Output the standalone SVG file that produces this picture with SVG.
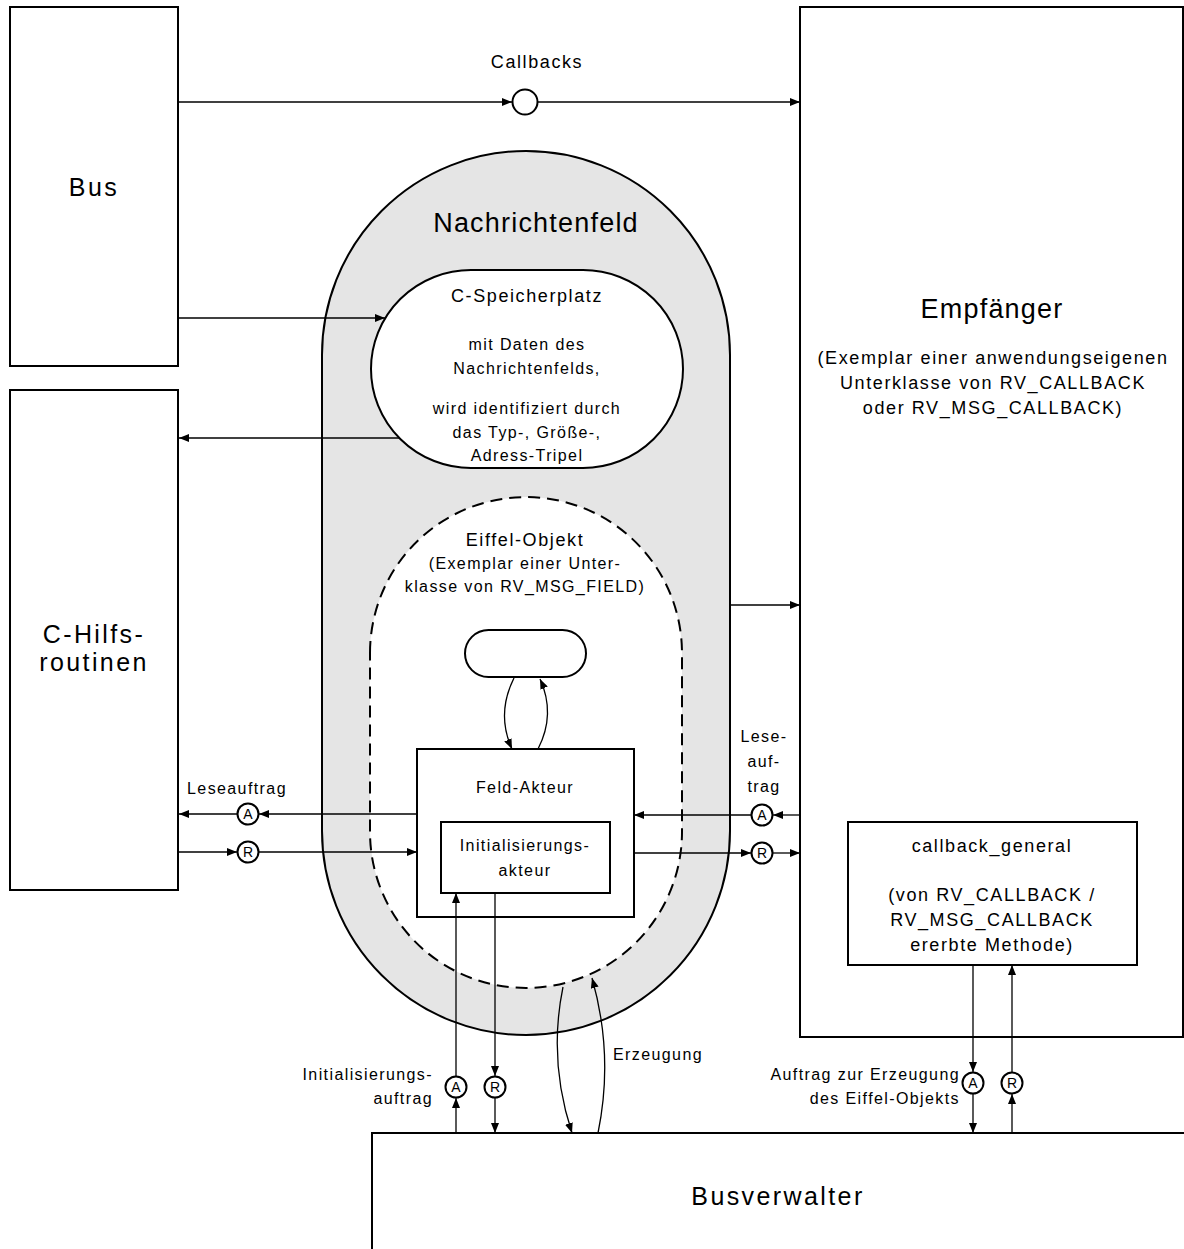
<svg xmlns="http://www.w3.org/2000/svg" width="1184" height="1249" viewBox="0 0 1184 1249">
  <style>
    .box { fill: #ffffff; stroke: #000000; stroke-width: 2; }
    .line { fill: none; stroke: #000000; stroke-width: 1.3; }
    .port { fill: #ffffff; stroke: #000000; stroke-width: 2; }
    text { font-family: "Liberation Sans", Arial, sans-serif; fill: #000000; text-anchor: middle; }
    .t-big { font-size: 25px; letter-spacing: 2.4px; }
    .t-title { font-size: 27px; letter-spacing: 1.2px; }
    .t-mid { font-size: 18px; letter-spacing: 1.6px; }
    .t-small { font-size: 16px; letter-spacing: 1.4px; }
    .t-port { font-size: 14px; }
    .end { text-anchor: end; }
  </style>
  <defs>
    <marker id="arrow" viewBox="0 0 10 8" refX="10" refY="4" markerWidth="10" markerHeight="8" markerUnits="userSpaceOnUse" orient="auto">
      <path d="M0,0 L10,4 L0,8 Z" fill="#000000"/>
    </marker>
  </defs>

  <!-- Bus -->
  <g id="bus">
    <rect class="box" x="10" y="7" width="168" height="359"/>
    <text class="t-big" x="94" y="196">Bus</text>
  </g>

  <!-- C helper routines -->
  <g id="c-hilfsroutinen">
    <rect class="box" x="10" y="390" width="168" height="500"/>
    <text class="t-big" x="94" y="643">C-Hilfs-</text>
    <text class="t-big" x="94" y="671">routinen</text>
  </g>

  <!-- Receiver -->
  <g id="empfaenger">
    <rect class="box" x="800" y="7" width="383" height="1030"/>
    <text class="t-title" x="992" y="318">Empfänger</text>
    <text class="t-mid" x="993" y="364">(Exemplar einer anwendungseigenen</text>
    <text class="t-mid" x="993" y="389">Unterklasse von RV_CALLBACK</text>
    <text class="t-mid" x="993" y="414">oder RV_MSG_CALLBACK)</text>
  </g>

  <!-- callback_general method -->
  <g id="callback-general">
    <rect class="box" x="848" y="822" width="289" height="143"/>
    <text class="t-mid" x="992" y="852">callback_general</text>
    <text class="t-mid" x="992" y="901">(von RV_CALLBACK /</text>
    <text class="t-mid" x="992" y="926">RV_MSG_CALLBACK</text>
    <text class="t-mid" x="992" y="951">ererbte Methode)</text>
  </g>

  <!-- Bus manager -->
  <g id="busverwalter">
    <rect class="box" x="372" y="1133" width="830" height="200"/>
    <text class="t-big" x="778" y="1205">Busverwalter</text>
  </g>

  <!-- Message field: grey stadium -->
  <g id="nachrichtenfeld">
    <path class="box" style="fill:#e5e5e5" d="M322,355 A204,204 0 0 1 730,355 L730,831 A204,204 0 0 1 322,831 Z"/>
    <text class="t-title" x="536" y="232">Nachrichtenfeld</text>
  </g>

  <!-- C storage -->
  <g id="c-speicherplatz">
    <rect class="box" x="371" y="270" width="312" height="198" rx="100" ry="99"/>
    <text class="t-mid" x="527" y="302">C-Speicherplatz</text>
    <text class="t-small" x="527" y="350">mit Daten des</text>
    <text class="t-small" x="527" y="374">Nachrichtenfelds,</text>
    <text class="t-small" x="527" y="414">wird identifiziert durch</text>
    <text class="t-small" x="527" y="438">das Typ-, Größe-,</text>
    <text class="t-small" x="527" y="461">Adress-Tripel</text>
  </g>

  <!-- Eiffel object: dashed stadium -->
  <g id="eiffel-objekt">
    <path d="M370,653 A156,156 0 0 1 682,653 L682,832 A156,156 0 0 1 370,832 Z" fill="#ffffff" stroke="#000000" stroke-width="2" stroke-dasharray="12,7"/>
    <text class="t-mid" x="525" y="546">Eiffel-Objekt</text>
    <text class="t-small" x="525" y="569">(Exemplar einer Unter-</text>
    <text class="t-small" x="525" y="592">klasse von RV_MSG_FIELD)</text>
  </g>

  <!-- State -->
  <g id="zustand">
    <rect class="box" x="465" y="630" width="121" height="47" rx="23.5" ry="23.5"/>
  </g>

  <!-- Field actor -->
  <g id="feld-akteur">
    <rect class="box" x="417" y="749" width="217" height="168"/>
    <text class="t-small" x="525" y="793">Feld-Akteur</text>
  </g>

  <!-- Initialisation actor -->
  <g id="initialisierungsakteur">
    <rect class="box" x="441" y="822" width="169" height="71"/>
    <text class="t-small" x="525" y="851">Initialisierungs-</text>
    <text class="t-small" x="525" y="876">akteur</text>
  </g>

  <!-- Connectors -->
  <g id="connectors">
    <!-- Callbacks: Bus -> Empfaenger -->
    <line class="line" x1="178" y1="102" x2="512" y2="102" marker-end="url(#arrow)"/>
    <line class="line" x1="538" y1="102" x2="800" y2="102" marker-end="url(#arrow)"/>
    <circle class="port" cx="525" cy="102" r="12.5"/>
    <text class="t-mid" x="537" y="68">Callbacks</text>

    <!-- Bus -> C storage, C storage -> helpers -->
    <line class="line" x1="178" y1="318" x2="385" y2="318" marker-end="url(#arrow)"/>
    <line class="line" x1="399" y1="438" x2="179" y2="438" marker-end="url(#arrow)"/>

    <!-- Message field -> Empfaenger -->
    <line class="line" x1="730" y1="605" x2="800" y2="605" marker-end="url(#arrow)"/>

    <!-- State <-> field actor -->
    <path class="line" d="M514,678 Q496,714 512,749" marker-end="url(#arrow)"/>
    <path class="line" d="M538,749 Q556,714 540,679" marker-end="url(#arrow)"/>

    <!-- Read request, left -->
    <line class="line" x1="417" y1="814" x2="259" y2="814" marker-end="url(#arrow)"/>
    <line class="line" x1="237" y1="814" x2="179" y2="814" marker-end="url(#arrow)"/>
    <circle class="port" cx="248" cy="814" r="10.5"/>
    <text class="t-port" x="248" y="819">A</text>
    <line class="line" x1="178" y1="852" x2="237" y2="852" marker-end="url(#arrow)"/>
    <line class="line" x1="259" y1="852" x2="417" y2="852" marker-end="url(#arrow)"/>
    <circle class="port" cx="248" cy="852" r="10.5"/>
    <text class="t-port" x="248" y="857">R</text>
    <text class="t-small" x="237" y="794">Leseauftrag</text>

    <!-- Read request, right -->
    <line class="line" x1="800" y1="815" x2="773" y2="815" marker-end="url(#arrow)"/>
    <line class="line" x1="751" y1="815" x2="634" y2="815" marker-end="url(#arrow)"/>
    <circle class="port" cx="762" cy="815" r="10.5"/>
    <text class="t-port" x="762" y="820">A</text>
    <line class="line" x1="634" y1="853" x2="751" y2="853" marker-end="url(#arrow)"/>
    <line class="line" x1="773" y1="853" x2="800" y2="853" marker-end="url(#arrow)"/>
    <circle class="port" cx="762" cy="853" r="10.5"/>
    <text class="t-port" x="762" y="858">R</text>
    <text class="t-small" x="764" y="742">Lese-</text>
    <text class="t-small" x="764" y="767">auf-</text>
    <text class="t-small" x="764" y="792">trag</text>

    <!-- Initialisation request -->
    <line class="line" x1="456" y1="1133" x2="456" y2="1098" marker-end="url(#arrow)"/>
    <line class="line" x1="456" y1="1076" x2="456" y2="893" marker-end="url(#arrow)"/>
    <circle class="port" cx="456" cy="1087" r="10.5"/>
    <text class="t-port" x="456" y="1092">A</text>
    <line class="line" x1="495" y1="893" x2="495" y2="1076" marker-end="url(#arrow)"/>
    <line class="line" x1="495" y1="1098" x2="495" y2="1133" marker-end="url(#arrow)"/>
    <circle class="port" cx="495" cy="1087" r="10.5"/>
    <text class="t-port" x="495" y="1092">R</text>
    <text class="t-small end" x="433" y="1080">Initialisierungs-</text>
    <text class="t-small end" x="433" y="1104">auftrag</text>

    <!-- Creation -->
    <path class="line" d="M563,987 Q548,1060 572,1133" marker-end="url(#arrow)"/>
    <path class="line" d="M598,1133 Q614,1055 592,978" marker-end="url(#arrow)"/>
    <text class="t-small" x="658" y="1060">Erzeugung</text>

    <!-- Creation request from callback_general -->
    <line class="line" x1="973" y1="965" x2="973" y2="1072" marker-end="url(#arrow)"/>
    <line class="line" x1="973" y1="1094" x2="973" y2="1133" marker-end="url(#arrow)"/>
    <circle class="port" cx="973" cy="1083" r="10.5"/>
    <text class="t-port" x="973" y="1088">A</text>
    <line class="line" x1="1012" y1="1133" x2="1012" y2="1094" marker-end="url(#arrow)"/>
    <line class="line" x1="1012" y1="1072" x2="1012" y2="965" marker-end="url(#arrow)"/>
    <circle class="port" cx="1012" cy="1083" r="10.5"/>
    <text class="t-port" x="1012" y="1088">R</text>
    <text class="t-small end" x="960" y="1080">Auftrag zur Erzeugung</text>
    <text class="t-small end" x="960" y="1104">des Eiffel-Objekts</text>
  </g>
</svg>
